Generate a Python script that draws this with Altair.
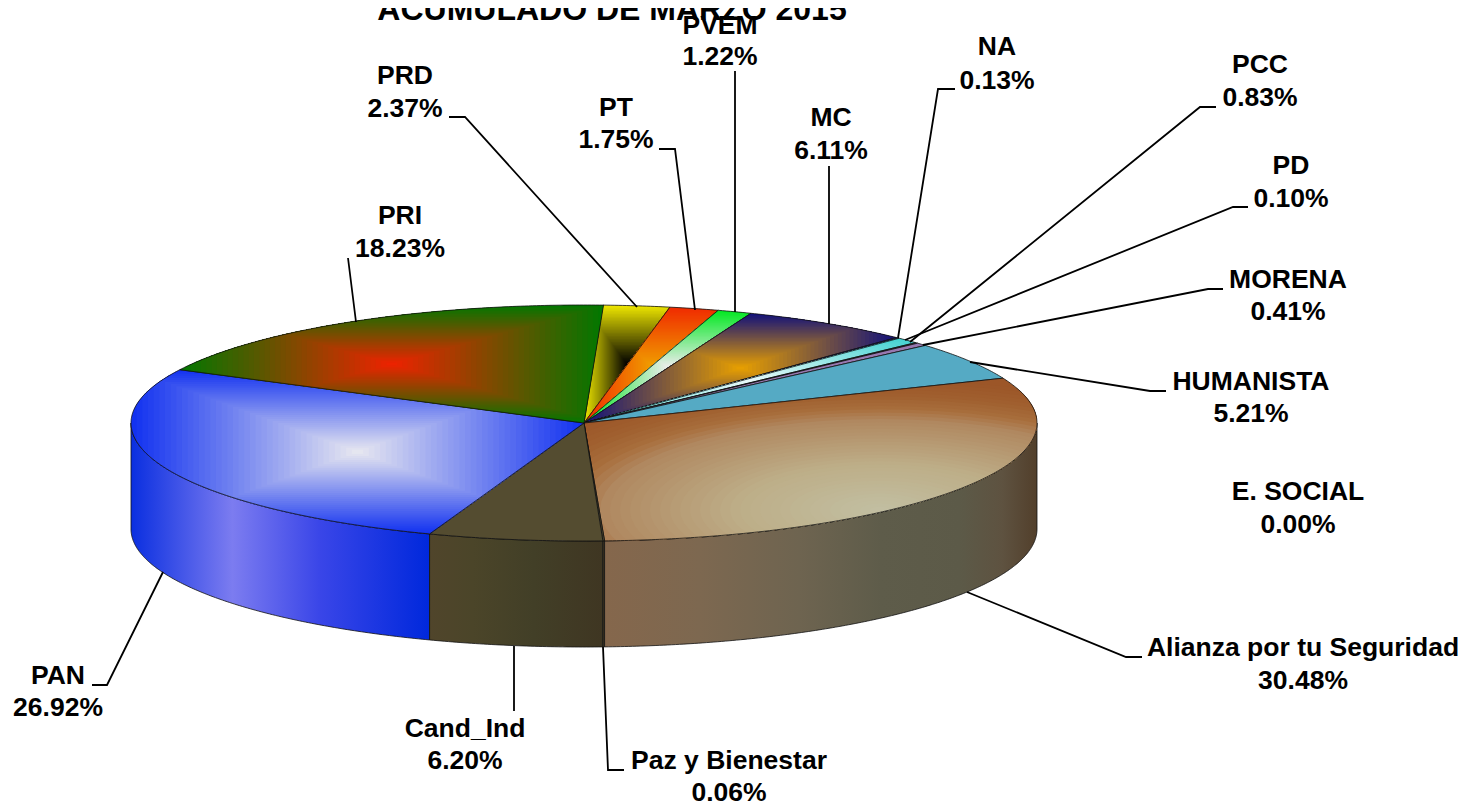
import math
import altair as alt
import pandas as pd

PARTIES = ["PRD", "PT", "PVEM", "MC", "NA", "PCC", "PD", "MORENA", "HUMANISTA", "E. SOCIAL",
           "Alianza por tu Seguridad", "Paz y Bienestar", "Cand_Ind", "PAN", "PRI"]
SHARES = [2.37, 1.75, 1.22, 6.11, 0.13, 0.83, 0.10, 0.41, 5.21, 0.00, 30.48, 0.06, 6.20, 26.92, 18.23]

# label centres (x, first line y, second line y), page pixels
LABEL_X = [405, 616, 720, 831, 997, 1260, 1291, 1288, 1251, 1298, 1303, 729, 465, 58, 400]
LABEL_Y1 = [76, 108, 26, 118, 47, 65, 166, 280, 382, 492, 648, 761, 729, 676, 216]
LABEL_Y2 = [109, 140, 57, 151, 81, 98, 199, 312, 414, 525, 681, 793, 761, 708, 249]

LEADERS = {
    "PRD": [(449, 117), (465, 117), (637, 307)],
    "PT": [(659, 149), (675, 149), (695, 310)],
    "PVEM": [(735, 71), (735, 312)],
    "MC": [(829, 166), (829, 324)],
    "NA": [(955, 89), (938, 89), (898, 338)],
    "PCC": [(1216, 107), (1200, 107), (910, 342)],
    "PD": [(1248, 207), (1233, 207), (905, 340)],
    "MORENA": [(1223, 289), (1208, 289), (923, 345)],
    "HUMANISTA": [(1166, 391), (1150, 391), (970, 362)],
    "Alianza por tu Seguridad": [(1142, 657), (1126, 657), (967, 592)],
    "Paz y Bienestar": [(603, 647), (608, 770), (624, 770)],
    "Cand_Ind": [(514, 646), (514, 711)],
    "PAN": [(92, 685), (107, 685), (163, 572)],
    "PRI": [(348, 258), (356, 322)],
}

# (centre colour, edge colour) of each slice's rectangular shading
SHADED = {
    "PRD": ("#000000", "#f0e800"),
    "PT": ("#f09c00", "#f02a00"),
    "PVEM": ("#ececec", "#00e820"),
    "MC": ("#e8a000", "#10107c"),
    "PCC": ("#eafafa", "#40d0d0"),
    "PAN": ("#e8e8f0", "#1030f0"),
    "PRI": ("#ee2200", "#007800"),
}
SOLID = {
    "NA": "#20206a",
    "PD": "#404060",
    "MORENA": "#9878b0",
    "HUMANISTA": "#55aac4",
    "Paz y Bienestar": "#544c30",
    "Cand_Ind": "#544c30",
}
# elliptical shading of the largest slice: distance from the highlight, colour
ALIANZA_GLOW = (880.0, 510.0, 400.0, 130.0)
ALIANZA_STOPS = [(0, "#c2bfa2"), (0.35, "#bdae88"), (0.69, "#b08860"), (0.78, "#a86e3c"),
                 (0.88, "#a0602f"), (1, "#9c5628")]

WALL_STOPS = {
    "PAN": [(0, "#0a2fe0"), (0.34, "#7c7cf0"), (0.63, "#3a46e8"), (1, "#0028dc")],
    "Cand_Ind": [(0, "#50452b"), (0.25, "#4b4529"), (0.6, "#423f27"), (1, "#3f3622")],
    "Paz y Bienestar": [(0, "#3f3622"), (1, "#3f3622")],
    "Alianza por tu Seguridad": [(0, "#85674c"), (0.22, "#7d6850"), (0.45, "#6e6450"),
                                 (0.64, "#5e5c4a"), (0.82, "#5c5a48"), (0.92, "#5e5240"), (1, "#523f2b")],
}

CX, CY, RX, RY, DEPTH = 584.0, 423.0, 453.0, 118.0, 106.0
START_DEG = 87.6
W, H = 1452, 796
BANDS = 40

X = alt.X("x:Q", scale=alt.Scale(domain=[8, 8 + W]), axis=None)
Y = alt.Y("y:Q", scale=alt.Scale(domain=[8 + H, 8]), axis=None)


def pt(deg, dy=0.0):
    r = math.radians(deg)
    return (CX + RX * math.cos(r), CY - RY * math.sin(r) + dy)


def arc(a, b):
    n = max(2, int(abs(a - b) * 2) + 1)
    return [a + (b - a) * i / (n - 1) for i in range(n)]


def poly_layer(points, fill, sw=0.8):
    df = pd.DataFrame({"x": [p[0] for p in points], "y": [p[1] for p in points],
                       "i": list(range(len(points)))})
    return alt.Chart(df).mark_line(fill=fill, stroke="#111111", strokeWidth=sw).encode(
        x=X, y=Y, order="i:Q")


def linear(stops):
    return {"gradient": "linear", "x1": 0, "y1": 0, "x2": 1, "y2": 0,
            "stops": [{"offset": o, "color": c} for o, c in stops]}


def clip_convex(poly, window):
    """Sutherland-Hodgman clip of poly by a convex window listed counter-clockwise in x/y."""
    for j, e0 in enumerate(window):
        e1 = window[(j + 1) % len(window)]
        if not poly:
            return poly

        def side(p):
            return (e1[0] - e0[0]) * (p[1] - e0[1]) - (e1[1] - e0[1]) * (p[0] - e0[0])

        out = []
        for i, p in enumerate(poly):
            q = poly[(i + 1) % len(poly)]
            sp, sq = side(p), side(q)
            if sp >= 0:
                out.append(p)
            if (sp >= 0) != (sq >= 0):
                t = sp / (sp - sq)
                out.append((p[0] + (q[0] - p[0]) * t, p[1] + (q[1] - p[1]) * t))
        poly = out
    return poly


def mix(c0, c1, f):
    a0 = [int(c0[i:i + 2], 16) for i in (1, 3, 5)]
    a1 = [int(c1[i:i + 2], 16) for i in (1, 3, 5)]
    return "#%02x%02x%02x" % tuple(round(u + (v - u) * f) for u, v in zip(a0, a1))


def ramp(stops, f):
    for (o0, c0), (o1, c1) in zip(stops, stops[1:]):
        if f <= o1:
            return mix(c0, c1, (f - o0) / (o1 - o0))
    return stops[-1][1]


def band_layer(parts):
    rows = []
    for k, (part, col) in enumerate(parts):
        if len(part) < 3:
            continue
        part = part + [part[0]]
        for i, (x, y) in enumerate(part):
            rows.append({"x": x, "y": y, "i": i, "band": k, "c": col})
    return alt.Chart(pd.DataFrame(rows)).mark_line(strokeWidth=0).encode(
        x=X, y=Y, order="i:Q", detail="band:O", fill=alt.Fill("c:N", scale=None, legend=None))


def rect_bands(poly, c_center, c_edge):
    xs, ys = [p[0] for p in poly], [p[1] for p in poly]
    mx, my = (min(xs) + max(xs)) / 2, (min(ys) + max(ys)) / 2
    hw, hh = (max(xs) - min(xs)) / 2, (max(ys) - min(ys)) / 2
    parts = []
    for k in range(BANDS):
        f = 1 - k / BANDS  # outer rectangle first, painted over by the inner ones
        x0, x1, y0, y1 = mx - hw * f, mx + hw * f, my - hh * f, my + hh * f
        window = [(x0, y0), (x1, y0), (x1, y1), (x0, y1)]
        parts.append((clip_convex(poly, window), mix(c_center, c_edge, f - 0.5 / BANDS)))
    return band_layer(parts)


def glow_bands(poly, glow, stops):
    gx, gy, grx, gry = glow
    parts = [(poly, stops[-1][1])]
    for k in range(BANDS):
        f = 1 - k / BANDS
        window = [(gx + grx * f * math.cos(2 * math.pi * t / 64),
                   gy + gry * f * math.sin(2 * math.pi * t / 64)) for t in range(64)]
        parts.append((clip_convex(poly, window), ramp(stops, f - 0.5 / BANDS)))
    return band_layer(parts)


bounds = {}
a = START_DEG
for name, s in zip(PARTIES, SHARES):
    b = a - s * 3.6
    bounds[name] = (a, b)
    a = b

layers = []
for name, stops in WALL_STOPS.items():
    a, b = bounds[name]
    degs = arc(min(a, 0.0), max(b, -180.0))
    pts = [pt(d) for d in degs] + [pt(d, DEPTH) for d in reversed(degs)]
    pts.append(pts[0])
    layers.append(poly_layer(pts, linear(stops)))

for name, s in zip(PARTIES, SHARES):
    if s <= 0:
        continue
    a, b = bounds[name]
    pts = [(CX, CY)] + [pt(d) for d in arc(a, b)]
    closed = pts + [pts[0]]
    if name == "Alianza por tu Seguridad":
        layers.append(glow_bands(pts, ALIANZA_GLOW, ALIANZA_STOPS))
        layers.append(poly_layer(closed, "transparent"))
    elif name in SHADED:
        layers.append(rect_bands(pts, *SHADED[name]))
        layers.append(poly_layer(closed, "transparent"))
    else:
        layers.append(poly_layer(closed, SOLID[name]))

rows = []
for name, path in LEADERS.items():
    for i, (x, y) in enumerate(path):
        rows.append({"name": name, "x": x, "y": y, "i": i})
layers.append(alt.Chart(pd.DataFrame(rows)).mark_line(color="black", strokeWidth=1.8).encode(
    x=X, y=Y, detail="name:N", order="i:Q"))

txt = []
for name, s, lx, y1, y2 in zip(PARTIES, SHARES, LABEL_X, LABEL_Y1, LABEL_Y2):
    txt.append({"t": name, "x": lx, "y": y1})
    txt.append({"t": f"{s:.2f}%", "x": lx, "y": y2})
layers.append(alt.Chart(pd.DataFrame(txt)).mark_text(
    font="Liberation Sans", fontWeight="bold", fontSize=26.5, color="black",
    align="center", baseline="middle").encode(x=X, y=Y, text="t:N"))
layers.append(alt.Chart(pd.DataFrame({"t": ["ACUMULADO DE MARZO 2015"], "x": [612], "y": [20]})).mark_text(
    font="Liberation Sans", fontWeight="bold", fontSize=32, color="black",
    align="center", baseline="alphabetic").encode(x=X, y=Y, text="t:N"))

chart = alt.layer(*layers).properties(
    width=W, height=H, padding=0,
    autosize=alt.AutoSizeParams(type="none"),
).configure_view(stroke=None)

chart.save("out.html", embed_options={"renderer": "svg", "actions": False})
